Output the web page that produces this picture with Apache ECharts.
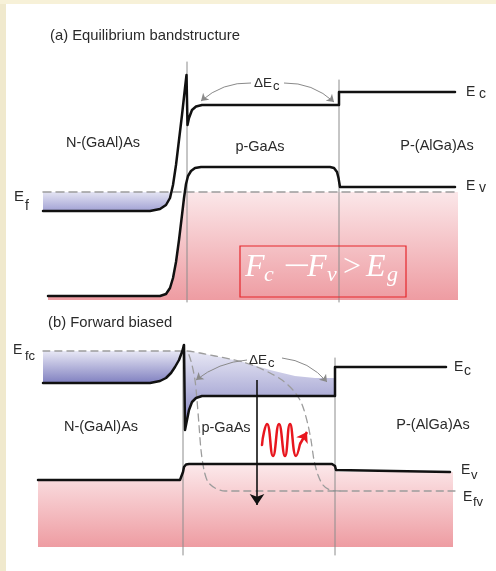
<!DOCTYPE html>
<html>
<head>
<meta charset="utf-8">
<script src="https://cdn.jsdelivr.net/npm/echarts@6/dist/echarts.min.js"></script>
<style>
  html, body { margin: 0; padding: 0; background: #fff; }
  #main { width: 496px; height: 571px; }
</style>
</head>
<body>
<div id="main"></div>
<script>
// ---- (a) equilibrium : [position, energy] ----
var ecA = [[43,94],[150,94],[160,96],[166,100],[170,107],[173,120],[176,140],[179,165],[182,190],[185,217],[186.5,230],
  [187.5,180],[189,187],[192,195],[196,198.5],[202,200],[339,200],[339,213],[455,213]];
var evA = [[48,9],[160,9],[166,11],[170,17],[173,27],[176,43],[179,65],[182,90],[184,107],[186,121],[188,129],[191,134],
  [195,137],[201,138],[330,138],[334,137],[337,133],[338.5,127],[340,118],[455,118]];
var efA = [[43,113],[455,113]];
var blueTopA = [[43,113],[171.4,113]];
var blueBotA = [[43,94],[150,94],[160,96],[166,100],[170,107],[171.4,113]];
var pinkTopA = [[48,9],[160,9],[166,11],[170,17],[173,27],[176,43],[179,65],[182,90],[184,107],[184.8,113],[458,113]];
var pinkBotA = [[48,5],[458,5]];
var interfacesA = [[187,3,243],[339,3,225]];
var deltaArrowsA = [[[251,222],[201,204],-0.2],[[284,222],[334,203],0.2]];

// ---- (b) forward biased ----
var ecB = [[43,188],[150,188],[160,190],[166,193],[171,198],[175,204],[179,211],[182,219],[184,226],
  [185,141],[187,151],[189,161],[192,169],[196,173],[202,175],[335,175],[335,204],[446,204]];
var evB = [[38,91],[180,91],[182,93],[183,99],[184,104],[186,106.5],[189,107],[332,107],[335,105],[336,101],[338,99],[450,99]];
var efcB = [[43,220],[187,220],[200,218],[215,215],[230,212],[243,209],[257,204],[270,198],[282,191],[293,181],[300,171],
  [304,161],[308,146],[311,131],[314,111],[318,96],[323,86],[330,81],[340,80]];
var efvB = [[455,80],[225,80],[215,83],[208,89],[204,101],[201,121],[199,146],[197,171],[195,191],[192,206],[189,216],[187,220]];
var blueTopBn = [[43,220],[183,220]];
var blueBotBn = [[43,188],[150,188],[160,190],[166,193],[171,198],[175,204],[179,211],[182,219],[183,220]];
var blueTopBp = [[185,220],[200,218],[215,215],[243,209],[270,201],[295,195],[315,193],[335,193]];
var blueBotBp = [[185,141],[187,151],[189,161],[192,169],[196,173],[202,175],[335,175]];
var pinkTopB = [[38,91],[180,91],[182,93],[183,99],[184,104],[186,106.5],[189,107],[332,107],[335,105],[336,101],[338,99],[453,99]];
var pinkBotB = [[38,24],[453,24]];
var interfacesB = [[183,16,226],[335,16,213]];
var deltaArrowsB = [[[247,211],[196,191],-0.15],[[282,213],[327,189],0.2]];
var transitionB = [[257,191],[257,66]];
var photonB = [[262,126],[264,139],[267,147],[273,115],[279,147],[285,115],[290,147],[296,115],[300,127]];
var photonTipB = [[300,127],[307,139]];

var chart = echarts.init(document.getElementById('main'));
var SANS = "'Liberation Sans', Arial, sans-serif";
var SERIF = "'Liberation Serif', 'Times New Roman', serif";

function grad(c0, c1) {
  return new echarts.graphic.LinearGradient(0, 0, 0, 1, [{offset: 0, color: c0}, {offset: 1, color: c1}]);
}

function fill(g, upper, lower, color) {
  var pts = upper.concat(lower.slice().reverse());
  return {
    type: 'custom', coordinateSystem: 'cartesian2d', xAxisIndex: g, yAxisIndex: g,
    silent: true, z: 1, clip: false,
    data: [upper[0]],
    renderItem: function(params, api) {
      return {
        type: 'polygon',
        shape: { points: pts.map(function(p) { return api.coord(p); }) },
        style: { fill: color }
      };
    }
  };
}

function line(g, data, opt) {
  opt = opt || {};
  return {
    type: 'line', xAxisIndex: g, yAxisIndex: g, data: data, symbol: 'none', silent: true,
    smooth: opt.smooth || false, z: opt.z || 3,
    lineStyle: { color: opt.color || '#111', width: opt.width || 2.5, type: opt.type || 'solid', cap: 'round', join: 'round' }
  };
}

function arrows(g, list, color, width, size) {
  return {
    type: 'lines', coordinateSystem: 'cartesian2d', xAxisIndex: g, yAxisIndex: g, silent: true, z: 4,
    symbol: ['none', 'arrow'], symbolSize: size,
    data: list.map(function(a) {
      return { coords: [a[0], a[1]], lineStyle: { curveness: a[2] || 0 } };
    }),
    lineStyle: { color: color, width: width, opacity: 1 }
  };
}

function iface(g, list) {
  return list.map(function(f) {
    return line(g, [[f[0], f[1]], [f[0], f[2]]], { color: '#8c8c8c', width: 1, z: 2 });
  });
}

function txt(x, y, s, size, opt) {
  opt = opt || {};
  return {
    type: 'text', x: x, y: y, z: 10, silent: true, scaleX: opt.scaleX || 1,
    style: {
      text: s, fill: opt.color || '#2a2a2a',
      font: (opt.italic ? 'italic ' : '') + size + 'px ' + (opt.family || SANS),
      textAlign: opt.align || 'left', textVerticalAlign: 'middle'
    }
  };
}

var blueA = grad('#e4e4f3', '#a2a2d4');
var blueB = grad('#e8e8f5', '#8080c0');
var pinkA = grad('#fbe7e9', '#ee9ca2');
var pinkB = grad('#fce9eb', '#ee9ca2');

var series = [
  fill(0, blueTopA, blueBotA, blueA),
  fill(0, pinkTopA, pinkBotA, pinkA),
  line(0, efA, { color: '#9c9c9c', width: 1.5, type: [8, 5], z: 2 }),
  line(0, ecA),
  line(0, evA),
  arrows(0, deltaArrowsA, '#8a8a8a', 1, 7),

  fill(1, blueTopBn, blueBotBn, blueB),
  fill(1, blueTopBp, blueBotBp, blueB),
  fill(1, pinkTopB, pinkBotB, pinkB),
  line(1, efcB, { color: '#9c9c9c', width: 1.3, type: [7, 5], smooth: 0.3, z: 2 }),
  line(1, efvB, { color: '#9c9c9c', width: 1.3, type: [7, 5], smooth: 0.3, z: 2 }),
  line(1, ecB),
  line(1, evB),
  arrows(1, deltaArrowsB, '#8a8a8a', 1, 7),
  arrows(1, [[transitionB[0], transitionB[1], 0]], '#111', 1.6, 11),
  line(1, photonB, { color: '#e8161e', width: 2.5, smooth: 0.5, z: 5 }),
  arrows(1, [[photonTipB[0], photonTipB[1], 0]], '#e8161e', 2.5, 10)
].concat(iface(0, interfacesA), iface(1, interfacesB));

var graphics = [
  { type: 'rect', shape: { x: 0, y: 0, width: 6, height: 571 }, style: { fill: '#f0e9cd' }, z: 0, silent: true },
  { type: 'rect', shape: { x: 0, y: 0, width: 496, height: 4 }, style: { fill: '#f7f1d8' }, z: 0, silent: true },

  txt(50, 36, '(a) Equilibrium bandstructure', 14.8),
  txt(103, 143, 'N-(GaAl)As', 14.5, { align: 'center' }),
  txt(260, 147, 'p-GaAs', 14.5, { align: 'center' }),
  txt(437, 146, 'P-(AlGa)As', 14.5, { align: 'center' }),
  txt(254, 83, '\u0394E', 13.5),
  txt(273, 86, 'c', 13),
  txt(466, 92, 'E', 14), txt(479, 94, 'c', 14),
  txt(466, 186, 'E', 14), txt(479, 188, 'v', 14),
  txt(14, 197, 'E', 15), txt(25, 206, 'f', 14),

  { type: 'rect', z: 9, silent: true, shape: { x: 240, y: 246, width: 166, height: 51 },
    style: { fill: 'none', stroke: '#e5262b', lineWidth: 1.2 } },
  txt(245, 268, 'F', 32, { italic: true, family: SERIF, color: '#fff' }),
  txt(264, 275.5, 'c', 22, { italic: true, family: SERIF, color: '#fff' }),
  txt(283, 268, '\u2212', 32, { family: SERIF, color: '#fff', scaleX: 1.5 }),
  txt(307, 268, 'F', 32, { italic: true, family: SERIF, color: '#fff' }),
  txt(327, 275.5, 'v', 22, { italic: true, family: SERIF, color: '#fff' }),
  txt(343, 268, '>', 32, { family: SERIF, color: '#fff' }),
  txt(366, 268, 'E', 32, { italic: true, family: SERIF, color: '#fff' }),
  txt(387, 275.5, 'g', 22, { italic: true, family: SERIF, color: '#fff' }),

  txt(48, 323, '(b) Forward biased', 14.8),
  txt(13, 350, 'E', 14), txt(25, 356, 'fc', 13),
  txt(249, 360, '\u0394E', 13.5), txt(268, 363, 'c', 13),
  txt(454, 367, 'E', 14), txt(464, 371, 'c', 14),
  txt(461, 470, 'E', 14), txt(471, 475, 'v', 13),
  txt(463, 497, 'E', 14), txt(473, 502, 'fv', 13),
  txt(101, 427, 'N-(GaAl)As', 14.5, { align: 'center' }),
  txt(226, 428, 'p-GaAs', 14.5, { align: 'center' }),
  txt(433, 425, 'P-(AlGa)As', 14.5, { align: 'center' })
];

var hiddenX = { type: 'value', min: 0, max: 496, show: false };
chart.setOption({
  animation: false,
  backgroundColor: '#fff',
  grid: [
    { left: 0, right: 0, top: 0, height: 305 },
    { left: 0, right: 0, top: 305, height: 266 }
  ],
  xAxis: [
    Object.assign({ gridIndex: 0 }, hiddenX),
    Object.assign({ gridIndex: 1 }, hiddenX)
  ],
  yAxis: [
    { type: 'value', gridIndex: 0, min: 0, max: 305, show: false },
    { type: 'value', gridIndex: 1, min: 0, max: 266, show: false }
  ],
  series: series,
  graphic: graphics
});
</script>
</body>
</html>
